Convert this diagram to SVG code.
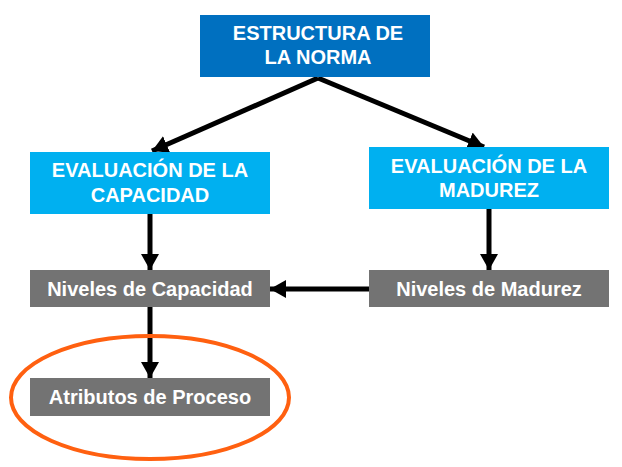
<svg xmlns="http://www.w3.org/2000/svg" width="622" height="467" viewBox="0 0 622 467">
<style>
.t{font-family:"Liberation Sans",Arial,sans-serif;font-weight:bold;font-size:20px;fill:#fff;text-anchor:middle}
.c{stroke:#000;stroke-width:5;fill:none;marker-end:url(#ah)}
</style>
<defs>
<marker id="ah" markerUnits="userSpaceOnUse" markerWidth="20" markerHeight="20" refX="16" refY="9" orient="auto">
<path d="M0,0 L16,9 L0,18 Z" fill="#000"/>
</marker>
</defs>
<rect width="622" height="467" fill="#fff"/>
<g id="connectors">
<line class="c" x1="318" y1="78" x2="152" y2="151"/>
<line class="c" x1="318" y1="78" x2="484" y2="147"/>
<line class="c" x1="150" y1="214" x2="150" y2="270"/>
<line class="c" x1="489" y1="209" x2="489" y2="270"/>
<line class="c" x1="369" y1="289" x2="270" y2="289"/>
<line class="c" x1="150" y1="307" x2="150" y2="378"/>
</g>
<g id="estructura">
<rect x="200" y="15" width="230" height="62" fill="#0070C0"/>
<text class="t" x="318" y="40">ESTRUCTURA DE</text>
<text class="t" x="318" y="64">LA NORMA</text>
</g>
<g id="eval-capacidad">
<rect x="30" y="152" width="240" height="62" fill="#00B0F0"/>
<text class="t" x="150" y="177">EVALUACIÓN DE LA</text>
<text class="t" x="150" y="202">CAPACIDAD</text>
</g>
<g id="eval-madurez">
<rect x="369" y="147" width="240" height="62" fill="#00B0F0"/>
<text class="t" x="489" y="173">EVALUACIÓN DE LA</text>
<text class="t" x="489" y="197">MADUREZ</text>
</g>
<g id="niveles-capacidad">
<rect x="30" y="270" width="240" height="37" fill="#737373"/>
<text class="t" x="150" y="296">Niveles de Capacidad</text>
</g>
<g id="niveles-madurez">
<rect x="369" y="270" width="240" height="37" fill="#737373"/>
<text class="t" x="489" y="296">Niveles de Madurez</text>
</g>
<g id="atributos">
<rect x="30" y="378" width="240" height="38" fill="#737373"/>
<text class="t" x="150" y="404">Atributos de Proceso</text>
</g>
<g id="highlight">
<ellipse cx="150" cy="397.5" rx="139" ry="61.5" fill="none" stroke="#FF6010" stroke-width="4"/>
</g>
</svg>
